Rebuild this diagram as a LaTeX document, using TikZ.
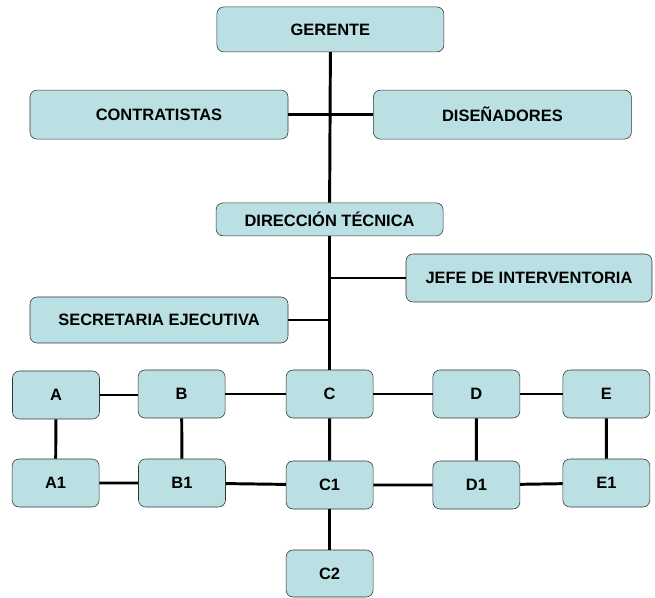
\documentclass[tikz,border=0pt]{standalone}
\usepackage{fontspec}
\setmainfont{Liberation Sans}
\definecolor{boxfill}{RGB}{187,224,227}

\begin{document}
\begin{tikzpicture}[
    unit/.style={draw=black!80,fill=boxfill,rounded corners=5pt,inner sep=0pt,
                 font=\fontsize{11.7}{13}\selectfont\bfseries},
    small/.style={unit,minimum width=2.175cm,minimum height=1.2cm},
    wide/.style={unit,minimum width=6.45cm,minimum height=1.2cm},
    link/.style={line width=2.1pt}]
  \useasboundingbox (0,0) rectangle (16.375,14.925);
  % Upper part of the chart
  \node[unit,minimum width=5.675cm,minimum height=1.125cm] (ger) at (8.26,14.19) {GERENTE};
  \node[wide,minimum height=1.225cm] (con) at (3.975,12.06) {CONTRATISTAS};
  \node[wide,minimum height=1.225cm] (dis) at (12.56,12.06) {DISEÑADORES};
  \node[unit,minimum width=5.675cm,minimum height=0.825cm] (dir) at (8.24,9.44) {DIRECCIÓN TÉCNICA};
  \node[unit,minimum width=6.15cm,minimum height=1.2cm] (jef) at (13.225,7.975) {JEFE DE INTERVENTORIA};
  \node[wide,minimum height=1.15cm] (sec) at (3.975,6.925) {SECRETARIA EJECUTIVA};
  \draw[link] (ger.south) -- (dir.north);
  \draw[link] (con.east) -- (dis.west);
  \draw[link] (dir.south) -- (8.24,5.7);
  \draw[link] (jef.west) -- (jef.west -| dir.south);
  \draw[link] (sec.east) -- (sec.east -| dir.south);
  % Lower part of the chart
  \node[small] (A)  at (1.4,5.05)   {A};
  \node[small] (B)  at (4.54,5.075) {B};
  \node[small] (C)  at (8.24,5.075) {C};
  \node[small] (D)  at (11.91,5.075) {D};
  \node[small] (E)  at (15.16,5.075) {E};
  \node[small] (A1) at (1.39,2.85)  {A1};
  \node[small] (B1) at (4.55,2.85)  {B1};
  \node[small] (C1) at (8.24,2.8)   {C1};
  \node[small] (D1) at (11.91,2.8)  {D1};
  \node[small] (E1) at (15.16,2.85) {E1};
  \node[small,minimum height=1.175cm] (C2) at (8.24,0.5875) {C2};
  \draw[link] (dir.south) -- (C.north);
  \draw[link] (A.east) -- (A.east -| B.west);
  \draw[link] (B) -- (C) (C) -- (D) (D) -- (E);
  \draw[link] (A) -- (A1) (B) -- (B1) (C) -- (C1) (D) -- (D1) (E) -- (E1);
  \draw[link] (A1) -- (B1) (B1) -- (C1) (C1) -- (D1) (D1) -- (E1);
  \draw[link] (C1) -- (C2);
\end{tikzpicture}
\end{document}
